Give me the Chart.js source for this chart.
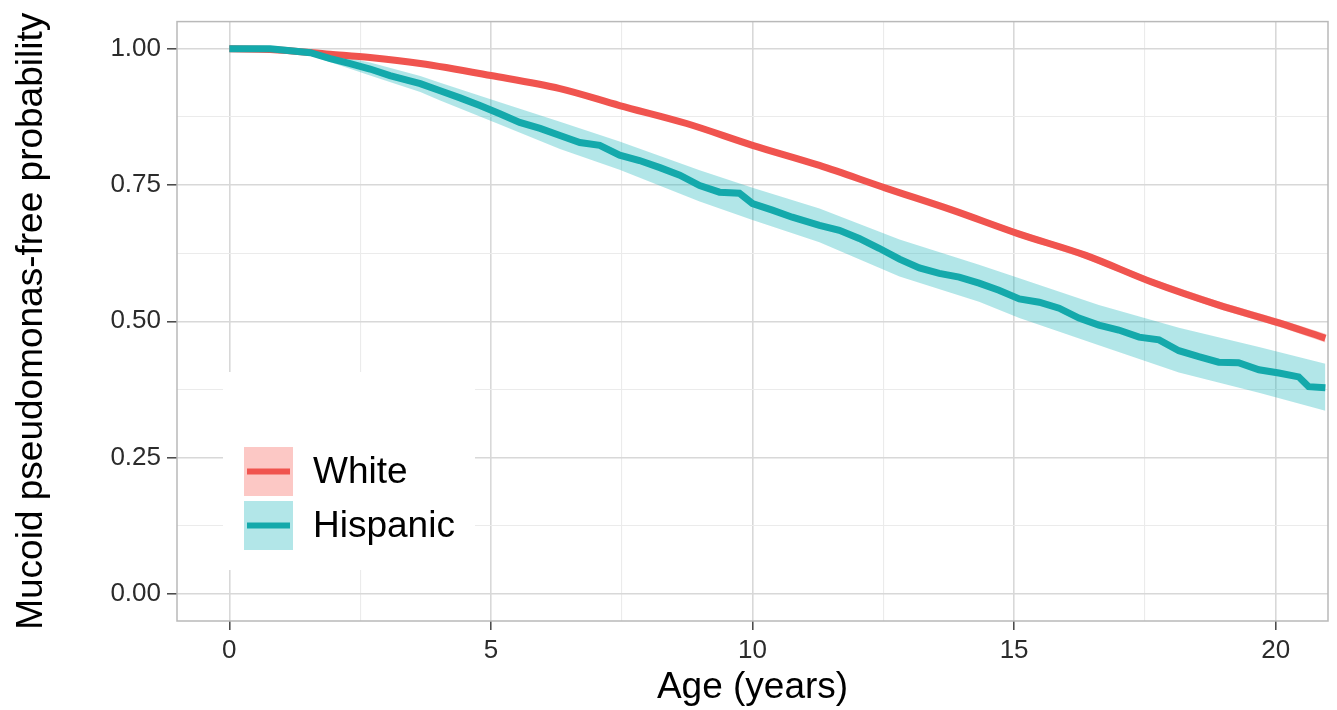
<!DOCTYPE html>
<html>
<head>
<meta charset="utf-8">
<script src="https://cdn.jsdelivr.net/npm/chart.js@4.4.1/dist/chart.umd.min.js"></script>
<style>
    html, body { margin: 0; padding: 0; background: #fff; }
</style>
</head>
<body>
<canvas id="myChart" width="1337" height="710"></canvas>
<script>
// Kaplan-Meier style curves
const seriesNames = ['White', 'Hispanic'];

const whiteAges = [0, 0.78, 1.93, 2.69, 3.65, 5.0, 6.32, 7.46, 8.74, 10.0, 11.28, 12.56, 13.82, 15.1, 16.37, 17.63, 18.9, 20.06, 20.95];
const whiteSurv = [1.0, 0.999, 0.99, 0.984, 0.973, 0.951, 0.927, 0.896, 0.863, 0.823, 0.786, 0.744, 0.704, 0.66, 0.621, 0.572, 0.53, 0.497, 0.469];
const whiteUpper = [1.0, 1.0, 0.992, 0.986, 0.976, 0.954, 0.931, 0.9, 0.867, 0.828, 0.791, 0.749, 0.709, 0.666, 0.627, 0.578, 0.537, 0.504, 0.477];
const whiteLower = [1.0, 0.998, 0.988, 0.981, 0.97, 0.947, 0.923, 0.892, 0.858, 0.818, 0.781, 0.739, 0.699, 0.654, 0.615, 0.566, 0.523, 0.49, 0.461];

const hispAges = [0, 0.78, 1.55, 1.93, 2.31, 2.69, 3.07, 3.45, 3.65, 4.03, 4.41, 4.79, 5.17, 5.55, 5.94, 6.32, 6.7, 7.08, 7.46,
    7.84, 8.23, 8.61, 8.99, 9.37, 9.75, 10.0, 10.38, 10.76, 11.28, 11.66, 12.04, 12.42, 12.81, 13.19, 13.57, 13.95, 14.33, 14.71,
    15.1, 15.48, 15.86, 16.24, 16.62, 17.0, 17.39, 17.77, 18.15, 18.53, 18.91, 19.29, 19.68, 20.06, 20.44, 20.63, 20.95];
const hispSurv = [1.0, 1.0, 0.993, 0.982, 0.973, 0.963, 0.951, 0.941, 0.936, 0.923, 0.91, 0.896, 0.881, 0.865, 0.854, 0.841, 0.828, 0.823, 0.805,
    0.795, 0.782, 0.768, 0.749, 0.737, 0.735, 0.716, 0.704, 0.691, 0.676, 0.667, 0.652, 0.634, 0.614, 0.598, 0.588, 0.581, 0.57, 0.557,
    0.541, 0.535, 0.524, 0.506, 0.493, 0.484, 0.471, 0.466, 0.446, 0.435, 0.425, 0.424, 0.411, 0.405, 0.398, 0.38, 0.378];

const hispCiAges = [0, 0.78, 1.55, 2.69, 3.65, 4.03, 5.17, 6.32, 7.46, 8.99, 10.0, 11.28, 12.81, 14.33, 15.1, 16.62, 18.15, 19.68, 20.95];
const hispUpper = [1.0, 1.0, 0.998, 0.975, 0.95, 0.938, 0.902, 0.866, 0.83, 0.777, 0.745, 0.707, 0.65, 0.604, 0.579, 0.53, 0.488, 0.453, 0.422];
const hispLower = [1.0, 0.999, 0.988, 0.951, 0.921, 0.905, 0.861, 0.816, 0.778, 0.72, 0.686, 0.645, 0.582, 0.536, 0.506, 0.456, 0.406, 0.369, 0.336];

const xTicks = [0, 2.5, 5, 7.5, 10, 12.5, 15, 17.5, 20];
const yTicks = [0, 0.125, 0.25, 0.375, 0.5, 0.625, 0.75, 0.875, 1];

const xTitle = 'Age (years)';
const yTitle = 'Mucoid pseudomonas-free probability';

const RED = '#f0544f';
const TEAL = '#14a9ab';
const RED_BAND = 'rgba(248,118,109,0.4)';
const TEAL_BAND = 'rgba(20,180,184,0.33)';
const FONT = '"Liberation Sans", Arial, sans-serif';

function pts(xs, ys) {
    return xs.map((x, i) => ({x: x, y: ys[i]}));
}

function band(data, fill, color) {
    return {data, fill, backgroundColor: color, borderWidth: 0, pointRadius: 0};
}

function isMajor(v, step) {
    return Math.abs(v / step - Math.round(v / step)) < 1e-6;
}

const panelBorder = {
    id: 'panelBorder',
    afterDatasetsDraw(chart) {
        const {ctx, chartArea: a} = chart;
        ctx.save();
        ctx.strokeStyle = '#b9b9b9';
        ctx.lineWidth = 1.5;
        ctx.strokeRect(a.left, a.top, a.right - a.left, a.bottom - a.top);
        ctx.restore();
    }
};

const insideLegend = {
    id: 'insideLegend',
    beforeDatasetsDraw(chart) {
        const {ctx, chartArea: a} = chart;
        const left = a.left + 46, top = 372;
        ctx.save();
        ctx.fillStyle = '#fff';
        ctx.fillRect(left, top, 252, 198);
        const keys = [[RED, RED_BAND], [TEAL, TEAL_BAND]];
        keys.forEach((k, i) => {
            const ky = 447 + i * 54;
            ctx.fillStyle = k[1];
            ctx.fillRect(a.left + 67, ky, 49, 49);
            ctx.strokeStyle = k[0];
            ctx.lineWidth = 6;
            ctx.beginPath();
            ctx.moveTo(a.left + 70, ky + 24.5);
            ctx.lineTo(a.left + 113, ky + 24.5);
            ctx.stroke();
            ctx.fillStyle = '#000';
            ctx.font = '37px ' + FONT;
            ctx.textBaseline = 'middle';
            ctx.fillText(seriesNames[i], a.left + 136, ky + 26);
        });
        ctx.restore();
    }
};

const tickFont = {family: FONT, size: 26};
const titleFont = {family: FONT, size: 37};

new Chart(document.getElementById('myChart'), {
    type: 'line',
    data: {
        datasets: [
            {label: seriesNames[1], data: pts(hispAges, hispSurv), borderColor: TEAL, borderWidth: 7, pointRadius: 0, fill: false, tension: 0},
            {label: seriesNames[0], data: pts(whiteAges, whiteSurv), borderColor: RED, borderWidth: 7, pointRadius: 0, fill: false, cubicInterpolationMode: 'monotone'},
            band(pts(hispCiAges, hispUpper), '+1', TEAL_BAND),
            band(pts(hispCiAges, hispLower), false, TEAL_BAND),
            band(pts(whiteAges, whiteUpper), '+1', RED_BAND),
            band(pts(whiteAges, whiteLower), false, RED_BAND)
        ]
    },
    options: {
        responsive: false,
        animation: false,
        devicePixelRatio: 1,
        layout: {padding: {top: 21, right: 9, left: 0, bottom: 0}},
        plugins: {legend: {display: false}, tooltip: {enabled: false}},
        scales: {
            x: {
                type: 'linear',
                min: -1,
                max: 21,
                afterBuildTicks: s => { s.ticks = xTicks.map(v => ({value: v})); },
                afterFit: s => { s.height = 89; },
                ticks: {
                    font: tickFont,
                    color: '#2b2b2b',
                    padding: 5,
                    maxRotation: 0,
                    callback: v => (isMajor(v, 5) ? String(v) : '')
                },
                grid: {
                    color: c => (c.tick && isMajor(c.tick.value, 5) ? '#d8d8d8' : '#ebebeb'),
                    lineWidth: c => (c.tick && isMajor(c.tick.value, 5) ? 1.6 : 1.1),
                    tickColor: c => (c.tick && isMajor(c.tick.value, 5) ? '#444' : 'rgba(0,0,0,0)'),
                    tickLength: 9,
                    tickWidth: 1.5
                },
                border: {display: false},
                title: {display: true, text: xTitle, font: titleFont, color: '#000', padding: {top: 0, bottom: 0}}
            },
            y: {
                type: 'linear',
                min: -0.05,
                max: 1.05,
                afterBuildTicks: s => { s.ticks = yTicks.map(v => ({value: v})); },
                afterFit: s => { s.width = 177; },
                ticks: {
                    font: tickFont,
                    color: '#2b2b2b',
                    padding: 6,
                    callback: v => (isMajor(v, 0.25) ? v.toFixed(2) : '')
                },
                grid: {
                    color: c => (c.tick && isMajor(c.tick.value, 0.25) ? '#d8d8d8' : '#ebebeb'),
                    lineWidth: c => (c.tick && isMajor(c.tick.value, 0.25) ? 1.6 : 1.1),
                    tickColor: c => (c.tick && isMajor(c.tick.value, 0.25) ? '#444' : 'rgba(0,0,0,0)'),
                    tickLength: 10,
                    tickWidth: 1.5
                },
                border: {display: false},
                title: {display: true, text: yTitle, font: titleFont, color: '#000', padding: {top: 10, bottom: 0}}
            }
        }
    },
    plugins: [insideLegend, panelBorder]
});
</script>
</body>
</html>
